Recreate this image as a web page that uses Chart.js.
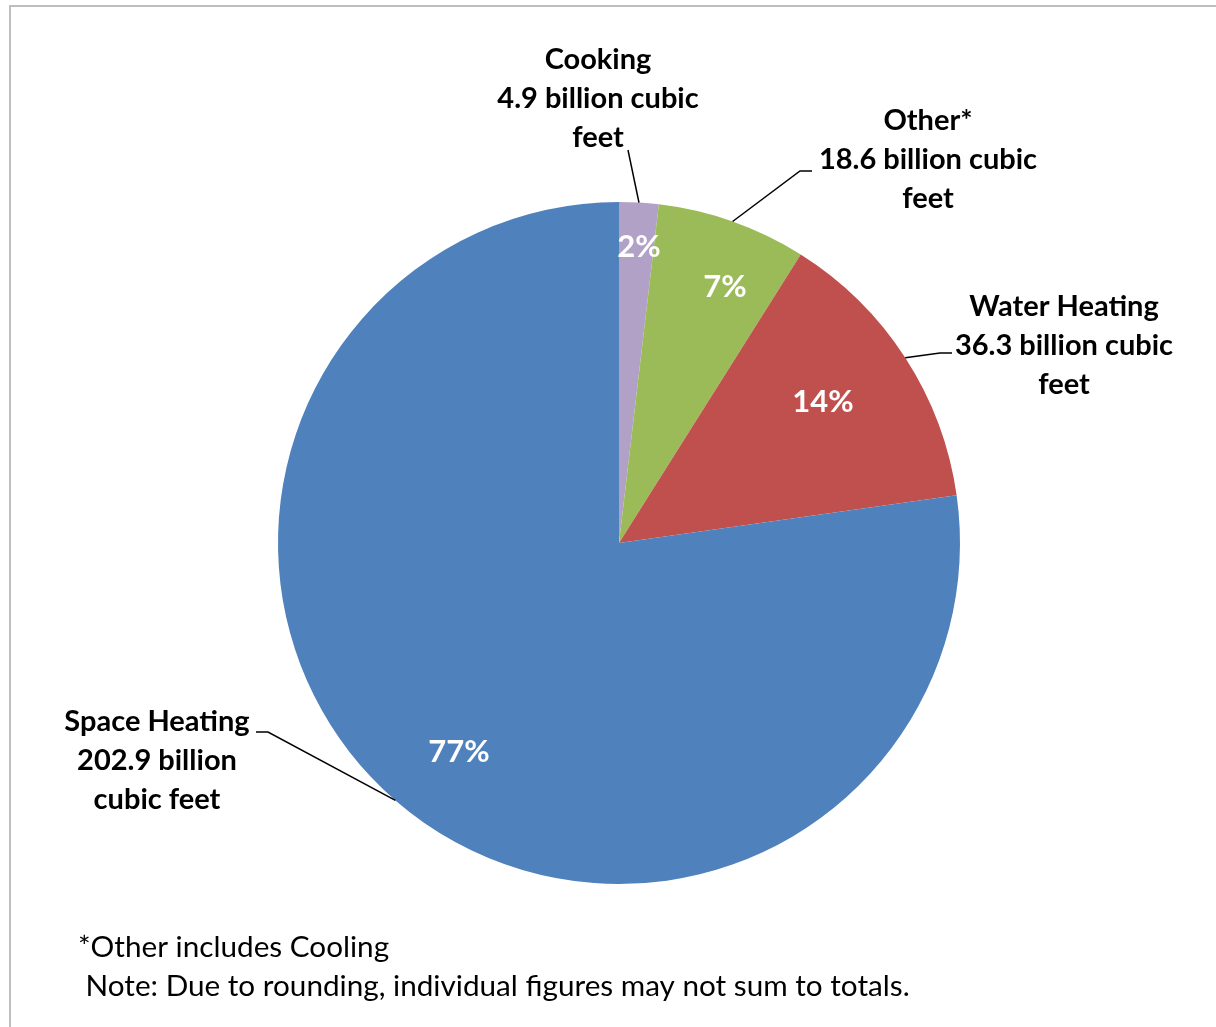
<!DOCTYPE html>
<html>
<head>
<meta charset="utf-8">
<script src="https://cdn.jsdelivr.net/npm/chart.js@4"></script>
<style>
  html,body{margin:0;padding:0;background:#fff;}
  #wrap{position:relative;width:1216px;height:1027px;}
</style>
</head>
<body>
<div id="wrap"><canvas id="pie" width="1216" height="1027"></canvas></div>
<script>
// data
const categories = ['Cooking', 'Other*', 'Water Heating', 'Space Heating'];
const values = [4.9, 18.6, 36.3, 202.9];
const pctLabels = ['2%', '7%', '14%', '77%'];
const valueLabels = [
  ['Cooking', '4.9 billion cubic', 'feet'],
  ['Other*', '18.6 billion cubic', 'feet'],
  ['Water Heating', '36.3 billion cubic', 'feet'],
  ['Space Heating', '202.9 billion', 'cubic feet']
];
const colors = ['#B2A1C7', '#9BBB59', '#C0504D', '#4F81BD'];
const footnotes = ['*Other includes Cooling', ' Note: Due to rounding, individual figures may not sum to totals.'];

// label placement (page px)
const labelBlocks = [
  {x:598, y:60,  elbow:[628,150], end:null},
  {x:928, y:121, elbow:[800,171], end:[812,171]},
  {x:1064,y:307, elbow:[940,353], end:[952,353]},
  {x:157, y:722, elbow:[268,732], end:[256,732]}
];
const pctPos = [[639,247],[725,287],[823,402],[459,752]];

const FONT = 'Lato, "Open Sans", "DejaVu Sans", sans-serif';

const labelPlugin = {
  id:'pieLabels',
  beforeDraw(chart){
    const ctx = chart.ctx;
    ctx.save();
    ctx.strokeStyle = '#BEBEBE';
    ctx.lineWidth = 2;
    ctx.strokeRect(10, 6, 1230, 1040);
    ctx.restore();
  },
  afterDraw(chart){
    const ctx = chart.ctx;
    const meta = chart.getDatasetMeta(0);
    ctx.save();
    // percentages
    ctx.fillStyle = '#fff';
    ctx.font = 'bold 31px ' + FONT;
    ctx.textAlign = 'center';
    ctx.textBaseline = 'middle';
    pctLabels.forEach((t,i)=> ctx.fillText(t, pctPos[i][0], pctPos[i][1]));

    // leader lines from arc edge at mid angle
    ctx.strokeStyle = '#000';
    ctx.lineWidth = 1.5;
    meta.data.forEach((arc,i)=>{
      const p = arc.getProps(['x','y','startAngle','endAngle','outerRadius'], true);
      const mid = (p.startAngle + p.endAngle)/2;
      const ax = p.x + Math.cos(mid)*p.outerRadius;
      const ay = p.y + Math.sin(mid)*p.outerRadius;
      const lb = labelBlocks[i];
      ctx.beginPath();
      ctx.moveTo(ax, ay);
      ctx.lineTo(lb.elbow[0], lb.elbow[1]);
      if (lb.end) ctx.lineTo(lb.end[0], lb.end[1]);
      ctx.stroke();
    });

    // category labels
    ctx.fillStyle = '#000';
    ctx.font = 'bold 29px ' + FONT;
    valueLabels.forEach((lines,i)=>{
      const lb = labelBlocks[i];
      lines.forEach((s,k)=> ctx.fillText(s, lb.x, lb.y + k*39));
    });

    // footnotes
    ctx.font = '29.7px ' + FONT;
    ctx.textAlign = 'left';
    ctx.fillText(footnotes[0], 78, 947);
    ctx.fillText(footnotes[1], 78, 986);
    ctx.restore();
  }
};

new Chart(document.getElementById('pie'), {
  type:'pie',
  data:{
    labels: categories,
    datasets:[{ data: values, backgroundColor: colors, borderWidth: 0 }]
  },
  options:{
    responsive:false,
    animation:false,
    layout:{ padding:{ left:278, top:202, right:256, bottom:143 } },
    plugins:{ legend:{ display:false }, tooltip:{ enabled:false } }
  },
  plugins:[labelPlugin]
});
</script>
</body>
</html>
